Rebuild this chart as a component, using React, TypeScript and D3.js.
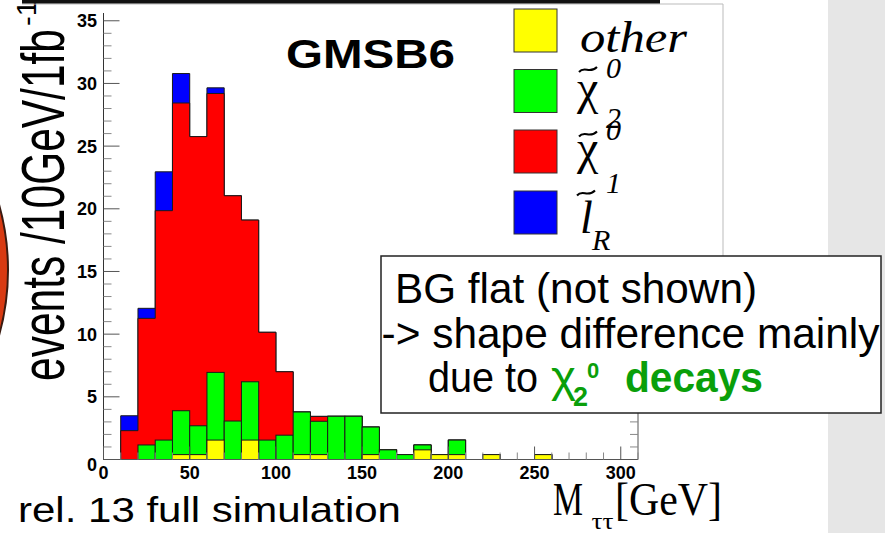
import React from 'react';
import * as d3 from 'd3';

// M_tautau histogram bins (lower edges, GeV), 10 GeV wide
const binLow = [0, 10, 20, 30, 40, 50, 60, 70, 80, 90, 100, 110, 120, 130, 140, 150, 160, 170, 180, 190, 200, 210, 220, 230, 240, 250, 260, 270, 280, 290, 300];
const BIN_WIDTH = 10;

// events / 10 GeV / 1 fb^-1 per source (stacked bottom to top)
const other = [0, 0, 0, 0, 0.39, 0.39, 1.55, 0, 1.55, 0, 0, 0.39, 0.39, 0, 0, 0.39, 0, 0, 0.77, 0.39, 0.39, 0, 0.39, 0, 0, 0.39, 0, 0, 0, 0, 0];
const chi2 = [0, 0, 1.16, 1.55, 3.5, 2.3, 5.4, 3.07, 4.65, 1.55, 1.94, 3.4, 2.66, 3.45, 3.45, 2.2, 0.77, 0.39, 0.39, 0, 1.16, 0, 0, 0, 0, 0, 0, 0, 0, 0, 0];
const chi1 = [0, 2.3, 10.1, 18.3, 24.55, 23.07, 22.25, 17.97, 12.9, 8.6, 5.06, 0, 0.39, 0, 0, 0, 0, 0, 0, 0, 0, 0, 0, 0, 0, 0, 0, 0, 0, 0, 0];
const slepton = [0, 1.19, 0.8, 3.1, 2.35, 0, 0.45, 0, 0, 0, 0, 0, 0, 0, 0, 0, 0, 0, 0, 0, 0, 0, 0, 0, 0, 0, 0, 0, 0, 0, 0];

const seriesKeys = ['other', 'chi2', 'chi1', 'slepton'];
const seriesColors = ['#ffff00', '#00ff00', '#ff0000', '#0000ff'];

const xTickValues = [0, 50, 100, 150, 200, 250, 300];
const yTickValues = [0, 5, 10, 15, 20, 25, 30, 35];

const SANS = "'Liberation Sans', Arial, Helvetica, sans-serif";
const SERIF = "'Liberation Serif', 'Times New Roman', serif";
const GREEN_TEXT = '#0a9f0a';

function tilde(x0: number, y: number, w: number) {
  return `M${x0},${y + 2.5} C${x0 + w * 0.3},${y - 4} ${x0 + w * 0.6},${y + 5} ${x0 + w},${y - 2.5}`;
}

export default function App() {
  const x = d3.scaleLinear().domain([0, 310]).range([103.5, 638]);
  const y = d3.scaleLinear().domain([0, 35.62]).range([459.5, 13]);

  const rows = binLow.map((lo, i) => ({
    lo,
    other: other[i],
    chi2: chi2[i],
    chi1: chi1[i],
    slepton: slepton[i],
  }));
  const stacked = d3.stack<any>().keys(seriesKeys)(rows);

  // cumulative histogram drawn as a filled step polygon
  const stepArea = (k: number) => {
    const pts = stacked[k].map((s, i) => ({ x: binLow[i], v: s[1] }));
    const last = pts[pts.length - 1];
    pts.push({ x: last.x + BIN_WIDTH, v: last.v });
    return d3
      .area<{ x: number; v: number }>()
      .x((d) => x(d.x))
      .y0(y(0))
      .y1((d) => y(d.v))
      .curve(d3.curveStepAfter)(pts) as string;
  };

  // cumulative histogram drawn bin by bin
  const binBoxes = (k: number) =>
    stacked[k].map((s, i) =>
      s[1] > 0 ? (
        <rect
          key={`${k}-${i}`}
          x={x(binLow[i])}
          y={y(s[1])}
          width={x(binLow[i] + BIN_WIDTH) - x(binLow[i])}
          height={y(0) - y(s[1])}
          fill={seriesColors[k]}
          stroke="#1a1a1a"
          strokeWidth={1}
        />
      ) : null
    );

  const xMinor = d3.range(0, 311, 10);
  const yMinor = d3.range(0, 36, 1);
  const x0 = x(0);
  const x1 = x(310);
  const yBase = y(0);

  const legendY = [9, 69.5, 130, 191];

  return (
    <svg
      width={885}
      height={533}
      style={{ position: 'absolute', left: 0, top: 0, background: '#ffffff' }}
    >
      {/* side panel */}
      <rect x={828} y={0} width={57} height={533} fill="#e6e6e6" />
      {/* round marker at the left edge */}
      <circle cx={-235} cy={270} r={243} fill="#d83a12" stroke="#3a1a10" strokeWidth={2} />

      {/* stacked histogram */}
      <path d={stepArea(3)} fill={seriesColors[3]} stroke="#1a1a1a" strokeWidth={1} />
      <path d={stepArea(2)} fill={seriesColors[2]} stroke="#1a1a1a" strokeWidth={1} />
      {binBoxes(1)}
      {binBoxes(0)}

      {/* axes */}
      <line x1={x0} x2={x0} y1={13} y2={yBase} stroke="#333" strokeWidth={1} />
      <line x1={x0} x2={x1} y1={yBase} y2={yBase} stroke="#555" strokeWidth={1} />
      <line x1={x1} x2={x1} y1={13} y2={yBase} stroke="#555" strokeWidth={1} />
      {yMinor.map((v) => {
        const major = v % 5 === 0;
        const len = major ? 16 : 8;
        return (
          <g key={`yt${v}`} stroke={major ? '#555' : '#888'} strokeWidth={1}>
            <line x1={x0} x2={x0 + len} y1={y(v)} y2={y(v)} />
            <line x1={x1} x2={x1 - len} y1={y(v)} y2={y(v)} />
          </g>
        );
      })}
      {xMinor.map((v) => {
        const major = v % 50 === 0;
        return (
          <line
            key={`xt${v}`}
            x1={x(v)}
            x2={x(v)}
            y1={yBase}
            y2={yBase - (major ? 13 : 7)}
            stroke={major ? '#555' : '#888'}
            strokeWidth={1}
          />
        );
      })}
      {yTickValues.map((v) => (
        <text
          key={`yl${v}`}
          x={97}
          y={y(v) + (v === 0 ? 11 : 6.5)}
          textAnchor="end"
          fontFamily={SANS}
          fontWeight="bold"
          fontSize={18}
          fill="#000"
        >
          {v}
        </text>
      ))}
      {xTickValues.map((v) => (
        <text
          key={`xl${v}`}
          x={x(v)}
          y={479}
          textAnchor="middle"
          fontFamily={SANS}
          fontWeight="bold"
          fontSize={18}
          fill="#000"
        >
          {v}
        </text>
      ))}

      {/* y axis title */}
      <text
        transform="translate(64,381) scale(1.4,1) rotate(-90)"
        fontFamily={SANS}
        fontSize={43}
        textLength={352}
        lengthAdjust="spacingAndGlyphs"
        fill="#000"
      >
        events /10GeV/1fb
      </text>
      <text
        transform="translate(36,26) rotate(-90)"
        fontFamily={SANS}
        fontSize={28}
        textLength={26}
        lengthAdjust="spacingAndGlyphs"
        fill="#000"
      >
        -1
      </text>

      {/* title */}
      <text
        x={286}
        y={68.3}
        fontFamily={SANS}
        fontWeight="bold"
        fontSize={40}
        textLength={169}
        lengthAdjust="spacingAndGlyphs"
        fill="#000"
      >
        GMSB6
      </text>

      {/* legend */}
      <rect x={480} y={4} width={243} height={252} fill="#ffffff" />
      <line x1={22} x2={723} y1={4} y2={4} stroke="#bbb" strokeWidth={1} />
      <line x1={723} x2={723} y1={4} y2={256} stroke="#bbb" strokeWidth={1} />
      <rect x={22} y={0} width={638} height={3.5} fill="#111" />
      {legendY.map((ly, i) => (
        <rect
          key={`lg${i}`}
          x={514}
          y={ly}
          width={43}
          height={43}
          fill={seriesColors[i]}
          stroke="#333"
          strokeWidth={1}
        />
      ))}
      <g fontFamily={SERIF} fontStyle="italic" fill="#000">
        <text x={580} y={52} fontSize={44} textLength={107} lengthAdjust="spacingAndGlyphs">
          other
        </text>
        {/* neutralino 2 */}
        <text x={577} y={104} fontSize={48} fontStyle="normal">χ</text>
        <text x={606} y={78} fontSize={30}>0</text>
        <text x={606} y={128} fontSize={30}>2</text>
        {/* neutralino 1 */}
        <text x={577} y={164} fontSize={48} fontStyle="normal">χ</text>
        <text x={606} y={140} fontSize={30}>0</text>
        <text x={606} y={193} fontSize={30}>1</text>
        {/* right-handed slepton */}
        <text x={580} y={233} fontSize={46}>l</text>
        <text x={592} y={250} fontSize={30}>R</text>
      </g>
      <g fill="none" stroke="#000" strokeWidth={2}>
        <path d={tilde(579, 69.5, 18)} />
        <path d={tilde(579, 134, 18)} />
        <path d={tilde(577, 193, 18)} />
      </g>

      {/* annotation box */}
      <rect x={381} y={256} width={500} height={157} fill="#ffffff" stroke="#222" strokeWidth={1.5} />
      <g fontFamily={SANS} fontSize={42} fill="#000">
        <text x={395} y={303} textLength={362} lengthAdjust="spacingAndGlyphs">
          BG flat (not shown)
        </text>
        <text x={381.5} y={348} textLength={498} lengthAdjust="spacingAndGlyphs">
          -&gt; shape difference mainly
        </text>
        <text x={428} y={392} textLength={110} lengthAdjust="spacingAndGlyphs">
          due to
        </text>
      </g>
      <g fontFamily={SANS} fill={GREEN_TEXT}>
        <text x={551} y={392} fontSize={44} textLength={25} lengthAdjust="spacingAndGlyphs">χ</text>
        <text x={573} y={406} fontSize={27} fontWeight="bold">2</text>
        <text x={587} y={378} fontSize={22} fontWeight="bold">0</text>
        <text
          x={625}
          y={392}
          fontSize={42}
          fontWeight="bold"
          textLength={138}
          lengthAdjust="spacingAndGlyphs"
        >
          decays
        </text>
      </g>

      {/* footer texts */}
      <text
        x={18}
        y={521.7}
        fontFamily={SANS}
        fontSize={35}
        textLength={383}
        lengthAdjust="spacingAndGlyphs"
        fill="#000"
      >
        rel. 13 full simulation
      </text>
      <g fontFamily={SERIF} fill="#000">
        <text x={553} y={515} fontSize={46} textLength={30} lengthAdjust="spacingAndGlyphs">
          M
        </text>
        <text x={591.5} y={529} fontSize={24} textLength={22} lengthAdjust="spacingAndGlyphs">
          ττ
        </text>
        <text x={615} y={515} fontSize={46} textLength={107} lengthAdjust="spacingAndGlyphs">
          [GeV]
        </text>
      </g>
    </svg>
  );
}
